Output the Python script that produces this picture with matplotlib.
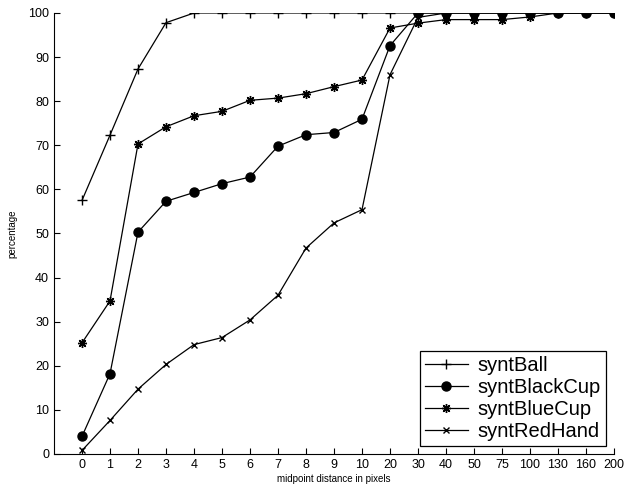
import numpy as np
import matplotlib.pyplot as plt

plt.rcParams['font.family'] = ['Liberation Sans', 'DejaVu Sans']

# midpoint distances (categorical, equally spaced)
dist = ['0', '1', '2', '3', '4', '5', '6', '7', '8', '9', '10',
        '20', '30', '40', '50', '75', '100', '130', '160', '200']

synt_ball = [57.5, 72.3, 87.3, 97.8, 100, 100, 100, 100, 100, 100, 100,
             100, 100, 100, 100, 100, 100, 100, 100, 100]
synt_black_cup = [4.0, 18.2, 50.3, 57.3, 59.3, 61.3, 62.8, 69.8, 72.4, 72.9, 75.9,
                  92.6, 100, 100, 100, 100, 100, 100, 100, 100]
synt_blue_cup = [25.2, 34.7, 70.3, 74.2, 76.7, 77.7, 80.2, 80.7, 81.7, 83.3, 84.8,
                 96.6, 97.7, 98.5, 98.5, 98.5, 99.1, 100, 100, 100]
synt_red_hand = [0.8, 7.6, 14.7, 20.3, 24.8, 26.4, 30.4, 36.0, 46.7, 52.4, 55.4,
                 86.0, 99.0, 100, 100, 100, 100, 100, 100, 100]

x = np.arange(len(dist))

fig = plt.figure(figsize=(6.25, 4.94), dpi=100)
ax = fig.add_axes([0.0864, 0.081, 0.896, 0.8927])

lw = 0.9
ax.plot(x, synt_ball, color='black', lw=lw, marker='+', ms=7, mew=1.0, label='syntBall')
ax.plot(x, synt_black_cup, color='black', lw=lw, marker='o', ms=6.5, label='syntBlackCup')
ax.plot(x, synt_blue_cup, color='black', lw=lw, marker=(8, 2, 0), ms=6.5, mew=1.0, label='syntBlueCup')
ax.plot(x, synt_red_hand, color='black', lw=lw, marker='x', ms=5, mew=1.0, label='syntRedHand')

ax.set_xlim(-1, 19)
ax.set_ylim(0, 100)
ax.set_xticks(x)
ax.set_xticklabels(dist)
ax.set_yticks(np.arange(0, 101, 10))
ax.tick_params(direction='in', length=4, labelsize=9, width=0.8)
ax.spines['top'].set_visible(False)
ax.spines['right'].set_visible(False)

ax.set_xlabel('midpoint distance in pixels', fontsize=7, labelpad=2.5)
ax.set_ylabel('percentage', fontsize=7, labelpad=8)

leg = ax.legend(loc='lower right', fontsize=14.5, frameon=True, fancybox=False,
                edgecolor='black', framealpha=1, handlelength=2.1, handletextpad=0.5,
                borderaxespad=0.4, labelspacing=0.15, borderpad=0.25)
leg.get_frame().set_linewidth(0.9)

fig.savefig('out.png', dpi=100)
